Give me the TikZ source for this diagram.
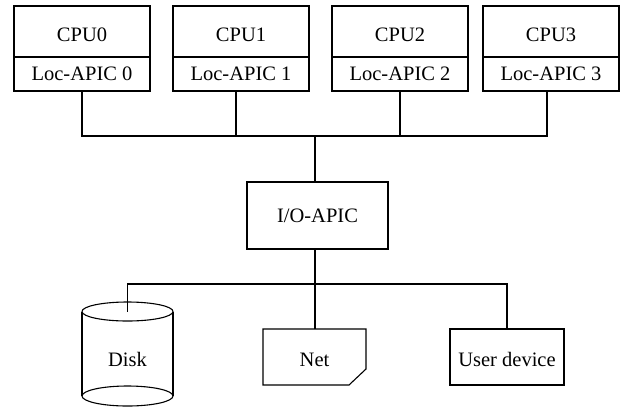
\documentclass[tikz,border=0pt]{standalone}
\usepackage{fontspec}
\setmainfont{Liberation Serif}
\begin{document}
\begin{tikzpicture}[x=1pt,y=-1pt,line width=1.1pt,
  every node/.style={font=\fontsize{20.5}{24}\selectfont, inner sep=0pt},
  topbox/.style={draw, minimum width=136pt, minimum height=51pt},
  locbox/.style={draw, minimum width=136pt, minimum height=34pt},
  plainbox/.style={draw, minimum width=#1, minimum height=56pt}]
\useasboundingbox (0,0) rectangle (623,408);
% CPUs
\foreach \i/\x in {0/82,1/241,2/400,3/551}{
  \node[topbox] (cpu\i) at (\x,31.5) {};
  \node at (\x,35) {CPU\i};
  \node[locbox] (loc\i) at (\x,74) {Loc-APIC \i};
}
\coordinate (busmid) at (315,136);
\node[draw, minimum width=141pt, minimum height=67pt] (io) at (317.5,215.5) {I/O-APIC};
\draw (loc0.south) |- (busmid);
\draw ([xshift=-5pt]loc1.south) |- (busmid);
\draw (loc2.south) |- (busmid);
\draw ([xshift=-4pt]loc3.south) |- (busmid);
\draw (busmid) -- (io.north -| busmid);
% lower devices
\coordinate (lowmid) at (315,284);
\draw (io.south -| lowmid) -- (lowmid);
% disk
\draw (82,311.5) -- (82,396) (173,311.5) -- (173,396);
\draw (127.5,311.5) ellipse [x radius=45.5, y radius=9.5];
\draw (127.5,396) ellipse [x radius=45.5, y radius=10];
\coordinate (disktop) at (127.5,311.5);
\node (disk) at (127.5,359.5) {Disk};
% net
\draw (263,329) -- (366,329) -- (366,369) -- (349,385) -- (263,385) -- cycle;
\coordinate (nettop) at (315,329);
\node (net) at (314.5,359.5) {Net};
% user device
\node[plainbox=114pt] (user) at (507,357) {};
\node at (507,359.5) {User device};
\draw (lowmid) -| (disktop);
\draw (lowmid) -- (nettop);
\draw (lowmid) -| (user.north);
\end{tikzpicture}
\end{document}
